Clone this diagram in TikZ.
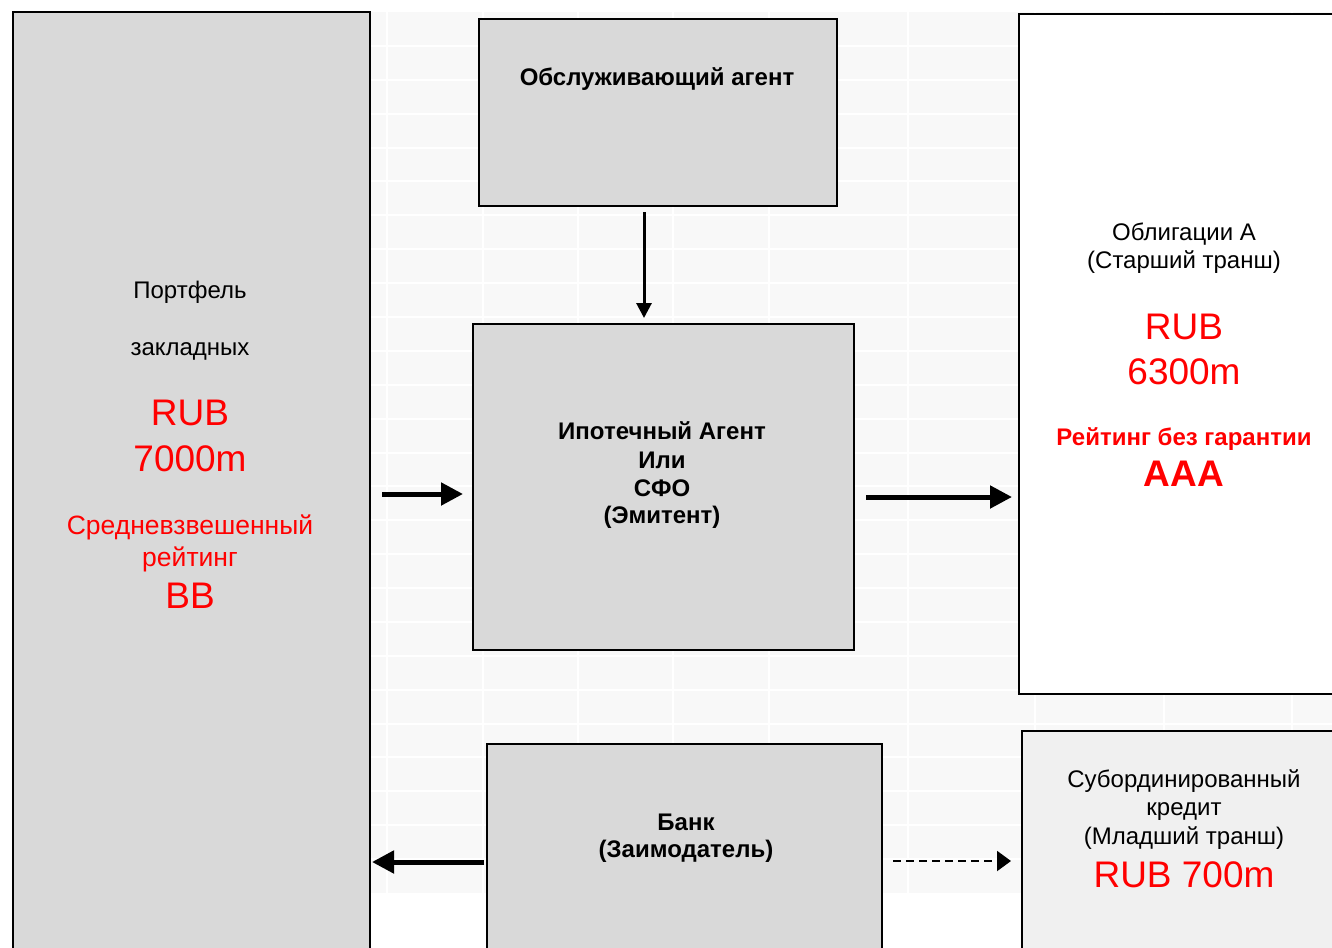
\documentclass[tikz,border=0pt]{standalone}
\usepackage{fontspec}
\setmainfont{Liberation Sans}
\usetikzlibrary{arrows.meta}
\definecolor{boxgray}{HTML}{D9D9D9}
\definecolor{lightbox}{HTML}{F0F0F0}
\definecolor{gridbg}{HTML}{F8F8F8}
\definecolor{rred}{HTML}{FF0000}
\begin{document}
\begin{tikzpicture}[x=1pt,y=-1pt,
  box/.style={draw=black,line width=2pt,inner sep=0pt,anchor=north west},
  txt/.style={inner sep=0pt,font=\fontsize{24}{28}\selectfont},
  btxt/.style={inner sep=0pt,font=\fontsize{24}{28}\selectfont\bfseries},
  bigred/.style={inner sep=0pt,text=rred,font=\fontsize{37}{42}\selectfont},
  midred/.style={inner sep=0pt,text=rred,font=\fontsize{26.5}{30}\selectfont},
  thickarrow/.style={line width=5pt,-{Triangle[length=22pt,width=22pt]}},
  thinarrow/.style={line width=3pt,-{Triangle[length=15pt,width=15pt]}},
  dasharrow/.style={line width=2pt,dash pattern=on 8pt off 5pt,-{Triangle[length=14pt,width=20pt]}}
]
\useasboundingbox (0,0) rectangle (1332,947);
\clip (0,0) rectangle (1332,947);
\fill[white] (0,0) rectangle (1332,947);
% spreadsheet-like background grid
\fill[gridbg] (370,12) rectangle (1332,893);
\foreach \gx in {387,483,578,673,769,908,1035,1164,1292}
  \draw[white,line width=2pt] (\gx,12) -- (\gx,893);
\foreach \k in {1,...,25}{
  \pgfmathsetmacro{\gy}{12+33.885*\k}
  \draw[white,line width=2pt] (370,\gy) -- (1332,\gy);
}
% boxes
\node[box,fill=boxgray,minimum width=357pt,minimum height=960pt] (left) at (12,11) {};
\node[box,fill=boxgray,minimum width=358pt,minimum height=187pt] (top) at (478,18) {};
\node[box,fill=boxgray,minimum width=381pt,minimum height=326pt] (mid) at (472,323) {};
\node[box,fill=white,minimum width=330pt,minimum height=680pt] (right) at (1018,13) {};
\node[box,fill=boxgray,minimum width=395pt,minimum height=230pt] (bank) at (486,743) {};
\node[box,fill=lightbox,minimum width=330pt,minimum height=240pt] (sub) at (1021,730) {};
% texts: left
\node[txt] (l1) at (190,292) {Портфель};
\node[txt] (l2) at (190,351) {закладных};
\node[bigred] (l3) at (190,413) {RUB};
\node[bigred] (l4) at (190,459) {7000m};
\node[midred] (l5) at (190,527) {Средневзвешенный};
\node[midred] (l6) at (190,559) {рейтинг};
\node[bigred] (l7) at (190,596) {BB};
% top
\node[btxt] (t1) at (657,79) {Обслуживающий агент};
% mid
\node[btxt] (m1) at (662,431) {Ипотечный Агент};
\node[btxt] (m2) at (662,460) {Или};
\node[btxt] (m3) at (662,488) {СФО};
\node[btxt] (m4) at (662,517) {(Эмитент)};
% bank
\node[btxt] (b1) at (686,822) {Банк};
\node[btxt] (b2) at (686,851) {(Заимодатель)};
% right
\node[txt] (r1) at (1184,234) {Облигации А};
\node[txt] (r2) at (1184,262) {(Старший транш)};
\node[bigred] (r3) at (1184,327) {RUB};
\node[bigred] (r4) at (1184,372) {6300m};
\node[btxt,text=rred] (r5) at (1184,439) {Рейтинг без гарантии};
\node[bigred,font=\fontsize{37}{42}\selectfont\bfseries] (r6) at (1184,474) {AAA};
% sub
\node[txt] (s1) at (1184,781) {Субординированный};
\node[txt] (s2) at (1184,812) {кредит};
\node[txt] (s3) at (1184,838) {(Младший транш)};
\node[bigred] (s4) at (1184,875) {RUB 700m};
% connectors
\draw[thinarrow,shorten <=5pt,shorten >=5pt] ([xshift=-14pt]top.south) -- ([xshift=-14pt]top.south |- mid.north);
\draw[thickarrow,shorten <=11pt,shorten >=9pt] ([yshift=-7pt]mid.west -| left.east) -- ([yshift=-7pt]mid.west);
\draw[thickarrow,shorten <=11pt,shorten >=6pt] ([yshift=-10pt]mid.east) -- ([yshift=-10pt]mid.east -| right.west);
\draw[thickarrow,shorten <=2pt,shorten >=1pt] ([yshift=-3pt]bank.west) -- ([yshift=-3pt]bank.west -| left.east);
\draw[dasharrow,shorten <=10pt,shorten >=10pt] ([yshift=-2pt]bank.east) -- ([yshift=-2pt]bank.east -| sub.west);
\end{tikzpicture}
\end{document}
